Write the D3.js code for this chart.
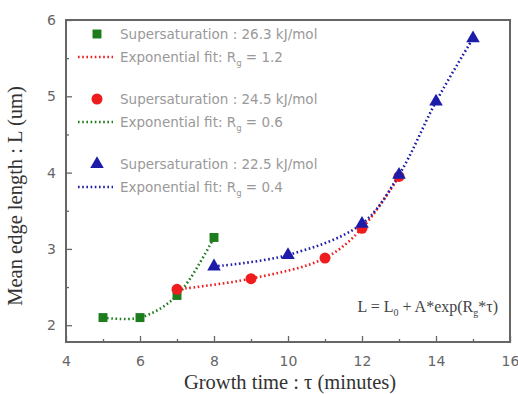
<!DOCTYPE html>
<html>
<head>
<meta charset="utf-8">
<script src="https://cdn.jsdelivr.net/npm/d3@7"></script>
<style>
  body { margin: 0; background: #fff; }
  .tick-label { font-family: "DejaVu Sans", sans-serif; font-size: 14px; fill: #666; }
  .axis-title { font-family: "Liberation Serif", serif; font-size: 20.5px; fill: #333; }
  .legend-text { font-family: "DejaVu Sans", sans-serif; font-size: 13.5px; fill: #999; }
</style>
</head>
<body>
<div class="chart"></div>
<script>
var svgWidth = 518;
var svgHeight = 394;

var margin = { top: 20, right: 8, bottom: 52, left: 66 };
var width = svgWidth - margin.left - margin.right;
var height = svgHeight - margin.top - margin.bottom;

// data
var timeGreen = [5, 6, 7, 8];
var lenGreen = [2.1, 2.1, 2.39, 3.15];
var timeRed = [7, 9, 11, 12, 13];
var lenRed = [2.47, 2.61, 2.88, 3.27, 3.95];
var timeBlue = [8, 10, 12, 13, 14, 15];
var lenBlue = [2.77, 2.92, 3.33, 3.97, 4.93, 5.76];

var xTicks = [4, 6, 8, 10, 12, 14, 16];
var yTicks = [2, 3, 4, 5, 6];
var legendLabels = ["Supersaturation : 26.3 kJ/mol", "Supersaturation : 24.5 kJ/mol", "Supersaturation : 22.5 kJ/mol"];
var fitRates = ["1.2", "0.6", "0.4"];

var svg = d3.select(".chart")
  .append("svg")
  .attr("width", svgWidth)
  .attr("height", svgHeight);

var chartGroup = svg.append("g")
  .attr("transform", `translate(${margin.left}, ${margin.top})`);

var x = d3.scaleLinear().domain([4, 16]).range([0, width]);
var y = d3.scaleLinear().domain([1.78, 6]).range([height, 0]);

// axes with inward ticks
var xAxis = chartGroup.append("g")
  .attr("transform", `translate(0, ${height})`)
  .call(d3.axisBottom(x).tickValues(xTicks).tickSize(-6).tickPadding(14).tickFormat(d3.format("d")));
var xMinor = chartGroup.append("g")
  .attr("transform", `translate(0, ${height})`)
  .call(d3.axisBottom(x).tickValues([5, 7, 9, 11, 13, 15]).tickSize(-3).tickFormat(""));
var yAxis = chartGroup.append("g")
  .call(d3.axisLeft(y).tickValues(yTicks).tickSize(-6).tickPadding(10).tickFormat(d3.format("d")));
var yMinor = chartGroup.append("g")
  .call(d3.axisLeft(y).tickValues([2.5, 3.5, 4.5, 5.5]).tickSize(-3).tickFormat(""));

[xAxis, xMinor, yAxis, yMinor].forEach(function(a) {
  a.select(".domain").remove();
  a.selectAll(".tick line").attr("stroke", "#666").attr("stroke-width", 1.3);
  a.selectAll(".tick text").attr("class", "tick-label");
});

// frame
chartGroup.append("rect")
  .attr("width", width)
  .attr("height", height)
  .attr("fill", "none")
  .attr("stroke", "#666")
  .attr("stroke-width", 2);

var line = d3.line()
  .x(function(d) { return x(d[0]); })
  .y(function(d) { return y(d[1]); })
  .curve(d3.curveCatmullRom.alpha(0.5));

var series = [
  { t: timeGreen, v: lenGreen, color: "#1d7d1d", shape: d3.symbolSquare, size: 80 },
  { t: timeRed, v: lenRed, color: "#ee1c1c", shape: d3.symbolCircle, size: 95 },
  { t: timeBlue, v: lenBlue, color: "#1c1ca8", shape: d3.symbolTriangle, size: 80 }
];

// fit lines
series.forEach(function(s) {
  chartGroup.append("path")
    .datum(d3.zip(s.t, s.v))
    .attr("d", line)
    .attr("fill", "none")
    .attr("stroke", s.color)
    .attr("stroke-width", 2.6)
    .attr("stroke-dasharray", "1.6 2.6");
});

// markers
series.forEach(function(s) {
  chartGroup.selectAll(null)
    .data(d3.zip(s.t, s.v))
    .enter()
    .append("path")
    .attr("d", d3.symbol().type(s.shape).size(s.size))
    .attr("transform", function(d) { return `translate(${x(d[0])}, ${y(d[1])})`; })
    .attr("fill", s.color);
});

// legend
var legendLineColors = ["#ee1c1c", "#1d7d1d", "#1c1ca8"];
var legend = chartGroup.append("g");
series.forEach(function(s, i) {
  var top = 14 + i * 65;
  legend.append("path")
    .attr("d", d3.symbol().type(s.shape).size(s.size))
    .attr("transform", `translate(31, ${top})`)
    .attr("fill", s.color);
  legend.append("text")
    .attr("class", "legend-text")
    .attr("x", 54)
    .attr("y", top + 5)
    .text(legendLabels[i]);
  legend.append("line")
    .attr("x1", 12).attr("x2", 47)
    .attr("y1", top + 23).attr("y2", top + 23)
    .attr("stroke", legendLineColors[i])
    .attr("stroke-width", 2.6)
    .attr("stroke-dasharray", "1.6 2.6");
  var ft = legend.append("text")
    .attr("class", "legend-text")
    .attr("x", 54)
    .attr("y", top + 28);
  ft.append("tspan").text("Exponential fit: R");
  ft.append("tspan").attr("font-size", "8.5px").attr("dy", 4).text("g");
  ft.append("tspan").attr("dy", -4).text(" = " + fitRates[i]);
});

// equation
var eq = chartGroup.append("text")
  .attr("x", width - 12)
  .attr("y", 292)
  .attr("text-anchor", "end")
  .attr("font-family", "Liberation Serif, serif")
  .attr("font-size", 16)
  .attr("fill", "#444");
eq.append("tspan").text("L = L");
eq.append("tspan").attr("font-size", "10px").attr("dy", 4).text("0");
eq.append("tspan").attr("dy", -4).text(" + A*exp(R");
eq.append("tspan").attr("font-size", "10px").attr("dy", 4).text("g");
eq.append("tspan").attr("dy", -4).text("*τ)");

// axis labels
chartGroup.append("text")
  .attr("transform", "rotate(-90)")
  .attr("y", 0 - margin.left + 22)
  .attr("x", 0 - (height / 2) - 15)
  .attr("text-anchor", "middle")
  .attr("class", "axis-title")
  .text("Mean edge length : L (um)");

chartGroup.append("text")
  .attr("transform", `translate(${width / 2 + 2}, ${height + 47})`)
  .attr("text-anchor", "middle")
  .attr("class", "axis-title")
  .text("Growth time : τ (minutes)");
</script>
</body>
</html>
